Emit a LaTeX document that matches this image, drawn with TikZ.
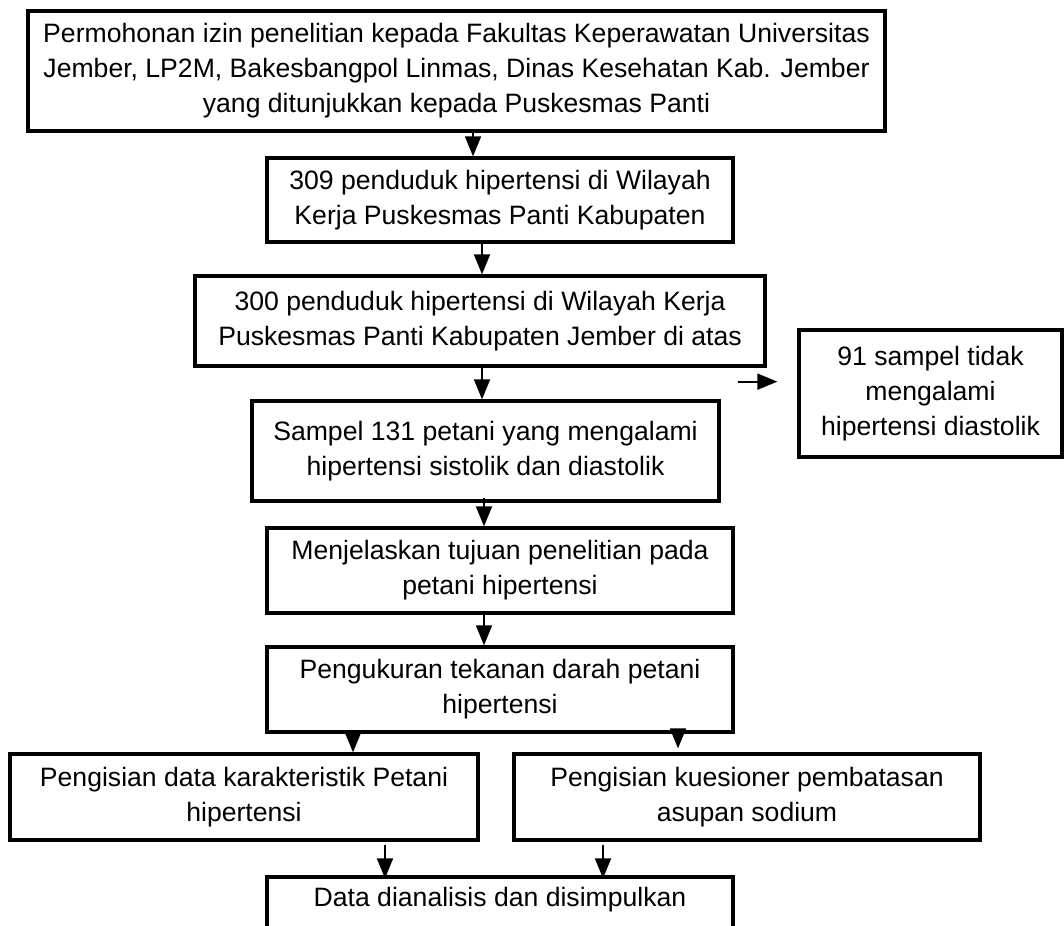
\documentclass[tikz,border=0pt]{standalone}
\usepackage{fontspec}
\setmainfont{Liberation Sans}
\usetikzlibrary{arrows.meta}
\newcommand{\boxfont}{\fontsize{26.6}{35}\selectfont}
\begin{document}
\begin{tikzpicture}[x=1pt,y=-1pt,
  flowbox/.style={draw, line width=3.3pt, inner sep=0pt, align=center, font=\boxfont},
  arr/.style={line width=1.8pt, -{Triangle[length=20pt,width=16pt]}}]
\useasboundingbox (0,0) rectangle (1064,925);
\clip (0,0) rectangle (1064,925);
\fill[white] (0,0) rectangle (1064,925);

\node[flowbox, minimum width=857pt, minimum height=120pt] (b1) at (456.5,71)
  {Permohonan izin penelitian kepada Fakultas Keperawatan Universitas\\Jember, LP2M, Bakesbangpol Linmas, Dinas Kesehatan Kab. Jember\\yang ditunjukkan kepada Puskesmas Panti};
\node[flowbox, minimum width=466pt, minimum height=84pt] (b2) at (500,200)
  {309 penduduk hipertensi di Wilayah\\Kerja Puskesmas Panti Kabupaten};
\node[flowbox, minimum width=570pt, minimum height=90pt] (b3) at (480,321)
  {300 penduduk hipertensi di Wilayah Kerja\\Puskesmas Panti Kabupaten Jember di atas};
\node[flowbox, minimum width=263pt, minimum height=127pt] (b91) at (930.5,393.5)
  {91 sampel tidak\\mengalami\\hipertensi diastolik};
\node[flowbox, minimum width=467pt, minimum height=100pt] (b4) at (485.5,451)
  {Sampel 131 petani yang mengalami\\hipertensi sistolik dan diastolik};
\node[flowbox, minimum width=466pt, minimum height=85pt] (b5) at (500,570.5)
  {Menjelaskan tujuan penelitian pada\\petani hipertensi};
\node[flowbox, minimum width=466pt, minimum height=85pt] (b6) at (500,689.5)
  {Pengukuran tekanan darah petani\\hipertensi};
\node[flowbox, minimum width=468pt, minimum height=86pt] (b7a) at (244,797)
  {Pengisian data karakteristik Petani\\hipertensi};
\node[flowbox, minimum width=466pt, minimum height=86pt] (b7b) at (747,797)
  {Pengisian kuesioner pembatasan\\asupan sodium};
\node[flowbox, minimum width=466pt, minimum height=85pt] (b8) at (500,919.5)
  {Data dianalisis dan disimpulkan\\\strut};

\draw[arr] ([xshift=16.5pt]b1.south) -- ([xshift=16.5pt]b1.south |- b2.north);
\draw[arr] ([xshift=-18pt]b2.south) -- ([xshift=-18pt]b2.south |- b3.north);
\draw[arr] ([xshift=2pt]b3.south) -- ([xshift=2pt]b3.south |- b4.north);
\draw[arr] ([xshift=-1.5pt,yshift=5pt]b4.south) -- ([xshift=-1.5pt]b4.south |- b5.north);
\draw[arr] ([xshift=-16pt]b5.south) -- ([xshift=-16pt]b5.south |- b6.north);
\draw[arr] ([xshift=-147pt]b6.south) -- ([xshift=-147pt]b6.south |- b7a.north);
\draw[arr] ([xshift=178pt,yshift=4pt]b6.south) -- ([xshift=178pt,yshift=4pt]b6.south |- b7a.north);
\draw[arr] ([xshift=141pt,yshift=-3pt]b7a.south) -- ([xshift=141pt,yshift=-3pt]b7a.south |- b8.north);
\draw[arr] ([xshift=-144pt,yshift=-3pt]b7b.south) -- ([xshift=-144pt,yshift=-3pt]b7b.south |- b8.north);
\coordinate (a91s) at ([xshift=-29pt,yshift=-14pt]b3.south east);
\coordinate (a91e) at ([xshift=-20pt]b91.west |- a91s);
\draw[arr] (a91s) -- (a91e);
\end{tikzpicture}
\end{document}
